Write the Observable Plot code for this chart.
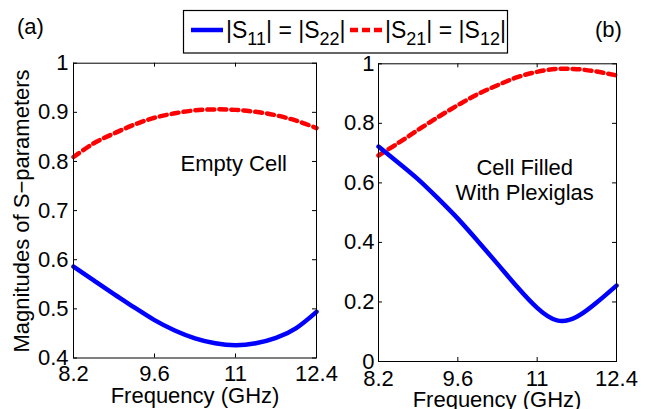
<!DOCTYPE html>
<html>
<head>
<meta charset="utf-8">
<script src="https://cdn.jsdelivr.net/npm/d3@7"></script>
<script src="https://cdn.jsdelivr.net/npm/@observablehq/plot@0.6"></script>
<style>
  html, body { margin: 0; padding: 0; background: white; }
  #wrap { position: relative; width: 649px; height: 409px; overflow: hidden; font-family: "Liberation Sans", Arial, Helvetica, sans-serif; }
  #wrap svg { position: absolute; overflow: visible !important; background: transparent !important; max-width: none !important; }
</style>
</head>
<body>
<div id="wrap"></div>
<script>
// ---- data ----
const freq = [8.2, 8.55, 8.9, 9.25, 9.6, 9.95, 10.3, 10.65, 11.0, 11.35, 11.7, 12.05, 12.4];
// (a) Empty cell
const emptyS11 = [0.586, 0.558, 0.530, 0.503, 0.477, 0.456, 0.440, 0.430, 0.426, 0.430, 0.441, 0.461, 0.494];
const emptyS21 = [0.809, 0.837, 0.857, 0.875, 0.889, 0.898, 0.904, 0.906, 0.905, 0.901, 0.894, 0.883, 0.868];
// (b) Cell filled with Plexiglas
const plexS11 = [0.722, 0.668, 0.612, 0.548, 0.480, 0.405, 0.328, 0.250, 0.180, 0.138, 0.150, 0.198, 0.255];
const plexS21 = [0.692, 0.734, 0.778, 0.821, 0.861, 0.898, 0.928, 0.955, 0.973, 0.983, 0.982, 0.974, 0.961];

const xTicks = [8.2, 9.6, 11, 12.4];
const yTicksA = [0.4, 0.5, 0.6, 0.7, 0.8, 0.9, 1];
const yTicksB = [0, 0.2, 0.4, 0.6, 0.8, 1];
const seriesNames = ["S11", "S21"];
const noteA = [{x: 10.97, y: 0.796, text: "Empty Cell"}];
const noteB = [{x: 10.78, y: 0.613, text: "Cell Filled\nWith Plexiglas"}];

const FONT = '"Liberation Sans", Arial, Helvetica, sans-serif';
const colors = {S11: "#0000ff", S21: "#ff0000"};

function rows(s11, s21) {
  const out = [];
  freq.forEach((f, i) => out.push({f, v: s11[i], s: "S11"}));
  freq.forEach((f, i) => out.push({f, v: s21[i], s: "S21"}));
  return out;
}

function panel({s11, s21, yDomain, yTicks, notes, width, height, mL, mR, mT, mB, xPad, yPad}) {
  const data = rows(s11, s21);
  const iw = width - mL - mR, ih = height - mT - mB;
  return Plot.plot({
    width, height,
    marginLeft: mL, marginRight: mR, marginTop: mT, marginBottom: mB,
    style: {fontFamily: FONT, fontSize: "22px", color: "black", background: "transparent", overflow: "visible"},
    x: {domain: [8.2, 12.4]},
    y: {domain: yDomain},
    marks: [
      Plot.line(data.filter(d => d.s === "S21"), {x: "f", y: "v", stroke: colors.S21, strokeWidth: 4.5, strokeDasharray: "7,5", curve: "catmull-rom"}),
      Plot.line(data.filter(d => d.s === "S11"), {x: "f", y: "v", stroke: colors.S11, strokeWidth: 4.5, curve: "natural"}),
      Plot.tickX(xTicks, {x: d => d, stroke: "black", insetTop: ih - 4}),
      Plot.tickX(xTicks, {x: d => d, stroke: "black", insetBottom: ih - 4}),
      Plot.tickY(yTicks, {y: d => d, stroke: "black", insetRight: iw - 4}),
      Plot.tickY(yTicks, {y: d => d, stroke: "black", insetLeft: iw - 4}),
      Plot.frame({stroke: "black", strokeWidth: 1}),
      Plot.axisX({ticks: xTicks, tickSize: 0, tickPadding: xPad, tickFormat: d => String(d), label: null, fontSize: 22}),
      Plot.axisY({ticks: yTicks, tickSize: 0, tickPadding: yPad, tickFormat: d => String(d), label: null, fontSize: 22}),
      Plot.text(notes, {x: "x", y: "y", text: "text", fontSize: 22, lineHeight: 1.14, fill: "black", textAnchor: "middle", lineAnchor: "middle"})
    ]
  });
}

const wrap = document.getElementById("wrap");

const left = panel({s11: emptyS11, s21: emptyS21, yDomain: [0.4, 1], yTicks: yTicksA, notes: noteA,
  width: 330, height: 409, mL: 73, mR: 14, mT: 62.7, mB: 51.5, xPad: 7.5, yPad: 5});
left.style.left = "0px"; left.style.top = "0px";
wrap.appendChild(left);

const right = panel({s11: plexS11, s21: plexS21, yDomain: [0, 1], yTicks: yTicksB, notes: noteB,
  width: 319, height: 409, mL: 48, mR: 33, mT: 63.3, mB: 48, xPad: 9, yPad: 4});
right.style.left = "330px"; right.style.top = "0px";
wrap.appendChild(right);

// ---- overlay: legend, panel tags, axis titles ----
const ns = "http://www.w3.org/2000/svg";
const ov = document.createElementNS(ns, "svg");
ov.setAttribute("width", 649); ov.setAttribute("height", 409);
ov.style.left = "0px"; ov.style.top = "0px";
ov.setAttribute("font-family", FONT);
ov.innerHTML = `
  <rect x="183.5" y="10.5" width="324" height="42.5" fill="white" stroke="black" stroke-width="1.2"/>
  <line x1="191" x2="223" y1="30" y2="30" stroke="${colors.S11}" stroke-width="4.5"/>
  <text x="226" y="38" font-size="23">|S<tspan font-size="18" dy="7">11</tspan><tspan dy="-7">| = |S</tspan><tspan font-size="18" dy="7">22</tspan><tspan dy="-7">|</tspan></text>
  <line x1="350" x2="384" y1="30" y2="30" stroke="${colors.S21}" stroke-width="4.5" stroke-dasharray="8,4"/>
  <text x="385" y="38" font-size="23">|S<tspan font-size="18" dy="7">21</tspan><tspan dy="-7">| = |S</tspan><tspan font-size="18" dy="7">12</tspan><tspan dy="-7">|</tspan></text>
  <text x="17" y="34" font-size="22">(a)</text>
  <text x="595" y="37" font-size="22">(b)</text>
  <text transform="translate(29,211) rotate(-90)" text-anchor="middle" font-size="22">Magnitudes of S\u2212parameters</text>
  <text x="195" y="403" text-anchor="middle" font-size="22">Frequency (GHz)</text>
  <text x="497" y="407" text-anchor="middle" font-size="22">Frequency (GHz)</text>
`;
wrap.appendChild(ov);
</script>
</body>
</html>
